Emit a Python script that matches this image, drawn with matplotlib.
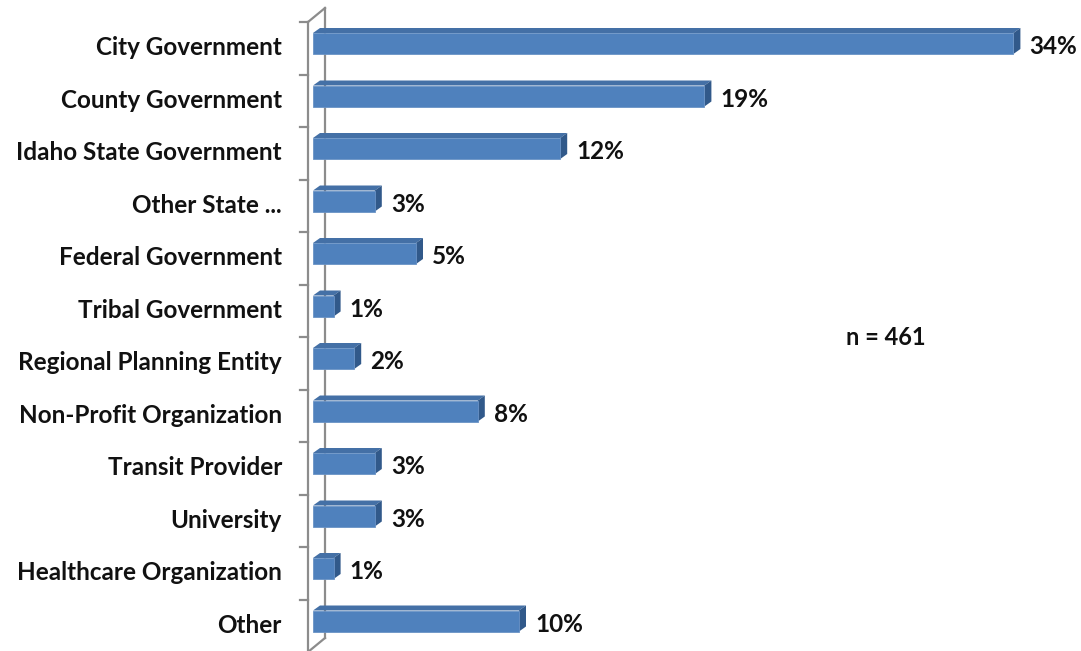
import numpy as np
import matplotlib.pyplot as plt
from matplotlib.patches import Polygon

# Data
categories = ['City Government', 'County Government', 'Idaho State Government',
              'Other State ...', 'Federal Government', 'Tribal Government',
              'Regional Planning Entity', 'Non-Profit Organization',
              'Transit Provider', 'University', 'Healthcare Organization', 'Other']
values = [34, 19, 12, 3, 5, 1, 2, 8, 3, 3, 1, 10]
value_labels = ['34%', '19%', '12%', '3%', '5%', '1%', '2%', '8%', '3%', '3%', '1%', '10%']
note = 'n = 461'

plt.rcParams['font.family'] = ['Lato', 'DejaVu Sans']

W, H = 1081, 651
fig = plt.figure(figsize=(W / 100, H / 100), dpi=100)

# axes covers from x pixel 313 to right edge, full height
x0_pix = 313
px_per_unit = 20.6
row = 52.5
top_c = 43.5
ax = fig.add_axes([x0_pix / W, 0, 1 - x0_pix / W, 1])
ax.set_xlim(0, (W - x0_pix) / px_per_unit)
ax.set_ylim((H - top_c) / row, -top_c / row)
ax.axis('off')

# pixel -> data helpers
dxu = lambda p: p / px_per_unit
dyu = lambda p: p / row

bar_h = 0.40
depth_x, depth_y = dxu(7), dyu(5)
front_c = '#4F81BD'
top_c_col = '#4470A6'
side_c = '#31598A'

y = np.arange(len(categories))
ax.barh(y, values, height=bar_h, color=front_c, edgecolor='#6A93C6', linewidth=0.6, zorder=3)
for yi, v in zip(y, values):
    yt = yi - bar_h / 2
    yb = yi + bar_h / 2
    top = Polygon([(0, yt), (v, yt), (v + depth_x, yt - depth_y), (depth_x, yt - depth_y)],
                  closed=True, facecolor=top_c_col, edgecolor='none', zorder=2)
    side = Polygon([(v, yt), (v + depth_x, yt - depth_y), (v + depth_x, yb - depth_y), (v, yb)],
                   closed=True, facecolor=side_c, edgecolor='none', zorder=2)
    ax.add_patch(top)
    ax.add_patch(side)

# axis wall lines (3D look)
ax_col = '#8C8C8C'
fx, bx = dxu(308 - x0_pix), dxu(325 - x0_pix)
fy_top, fy_bot = dyu(22 - top_c), dyu(652 - top_c)
by_top, by_bot = dyu(8 - top_c), dyu(638 - top_c)
ax.plot([fx, fx], [fy_top, fy_bot], color=ax_col, lw=1.6, clip_on=False, zorder=1)
ax.plot([bx, bx], [by_top, by_bot], color=ax_col, lw=1.6, clip_on=False, zorder=1)
ax.plot([fx, bx], [fy_top, by_top], color=ax_col, lw=1.6, clip_on=False, zorder=1)
ax.plot([fx, bx], [fy_bot, by_bot], color=ax_col, lw=1.6, clip_on=False, zorder=1)
for k in range(len(categories)):
    ty = dyu(22 - top_c) + k
    ax.plot([dxu(300 - x0_pix), fx], [ty, ty], color=ax_col, lw=1.6, clip_on=False, zorder=1)

# category labels
for yi, c in zip(y, categories):
    ax.text(dxu(282 - x0_pix), yi + dyu(4), c, ha='right', va='center',
            fontsize=17.5, fontweight='bold', color='#111111', clip_on=False)

# value labels
for yi, v, lab in zip(y, values, value_labels):
    ax.text(v + dxu(16), yi + dyu(3), lab, ha='left', va='center',
            fontsize=17.5, fontweight='bold', color='#111111')

ax.text(dxu(886 - x0_pix), dyu(337 - top_c), note, ha='center', va='center',
        fontsize=17, fontweight='bold', color='#111111')

fig.savefig('out.png', dpi=100)
